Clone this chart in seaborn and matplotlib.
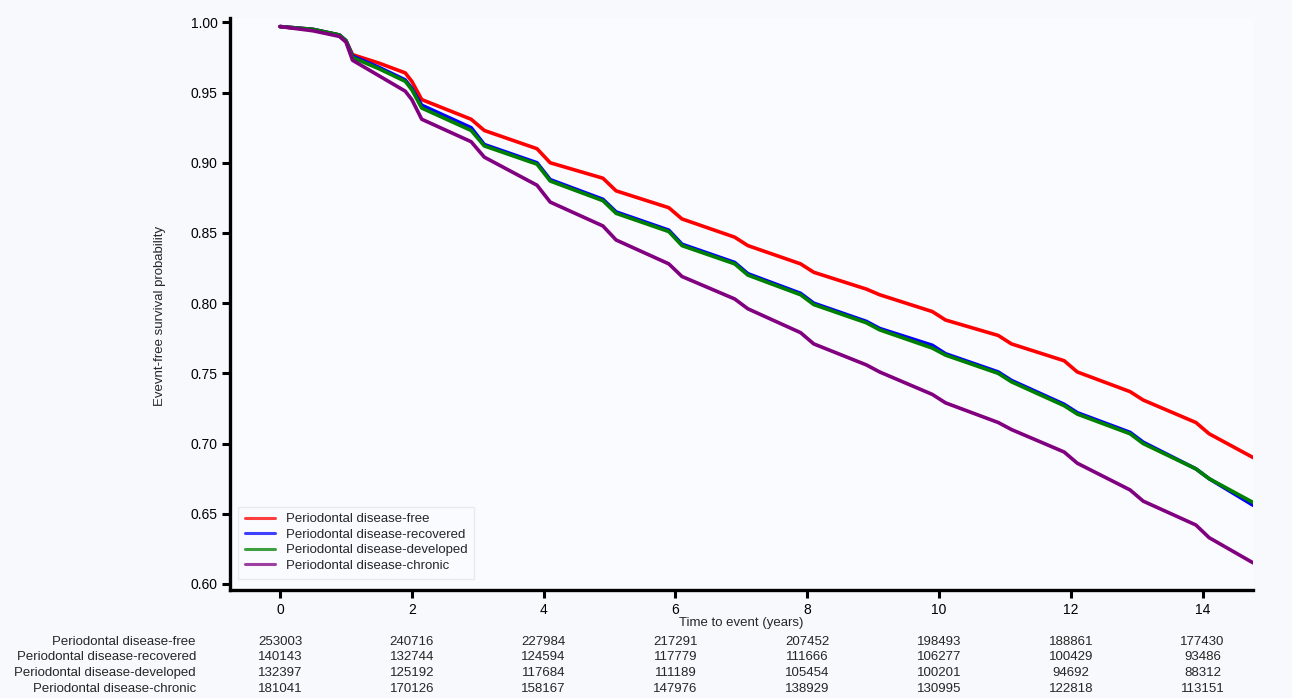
"""Event-free survival curves by periodontal disease status, with numbers at risk."""

import matplotlib

matplotlib.use("Agg")
import matplotlib.pyplot as plt
import matplotlib.transforms as mtransforms
import numpy as np
import pandas as pd
import seaborn as sns

# Curve knots (years)
time_years = [0, 0.5, 0.9, 1.0, 1.1, 1.5, 1.9, 2.0, 2.15, 2.9, 3.1, 3.9, 4.1, 4.9, 5.1,
              5.9, 6.1, 6.9, 7.1, 7.9, 8.1, 8.9, 9.1, 9.9, 10.1, 10.9, 11.1, 11.9,
              12.1, 12.9, 13.1, 13.9, 14.1, 14.77]

surv_free = [0.997, 0.995, 0.991, 0.987, 0.977, 0.971, 0.964, 0.958, 0.945, 0.931,
             0.923, 0.910, 0.900, 0.889, 0.880, 0.868, 0.860, 0.847, 0.841, 0.828,
             0.822, 0.810, 0.806, 0.794, 0.788, 0.777, 0.771, 0.759, 0.751, 0.737,
             0.731, 0.715, 0.707, 0.690]
surv_recovered = [0.997, 0.995, 0.991, 0.987, 0.976, 0.968, 0.959, 0.953, 0.941, 0.925,
                  0.913, 0.900, 0.888, 0.874, 0.865, 0.852, 0.842, 0.829, 0.821, 0.807,
                  0.800, 0.787, 0.782, 0.770, 0.764, 0.751, 0.745, 0.728, 0.722, 0.708,
                  0.701, 0.682, 0.675, 0.656]
surv_developed = [0.997, 0.995, 0.991, 0.987, 0.975, 0.967, 0.958, 0.952, 0.939, 0.923,
                  0.912, 0.899, 0.887, 0.873, 0.864, 0.851, 0.841, 0.828, 0.820, 0.806,
                  0.799, 0.786, 0.781, 0.768, 0.763, 0.750, 0.744, 0.727, 0.721, 0.707,
                  0.700, 0.682, 0.675, 0.658]
surv_chronic = [0.997, 0.994, 0.990, 0.986, 0.973, 0.962, 0.951, 0.945, 0.931, 0.915,
                0.904, 0.884, 0.872, 0.855, 0.845, 0.828, 0.819, 0.803, 0.796, 0.779,
                0.771, 0.756, 0.751, 0.735, 0.729, 0.715, 0.710, 0.694, 0.686, 0.667,
                0.659, 0.642, 0.633, 0.615]

groups = ["Periodontal disease-free", "Periodontal disease-recovered",
          "Periodontal disease-developed", "Periodontal disease-chronic"]
colors = ["#ff0000", "#0000ff", "#008000", "#800080"]

# Numbers at risk
risk_times = [0, 2, 4, 6, 8, 10, 12, 14]
risk_free = [253003, 240716, 227984, 217291, 207452, 198493, 188861, 177430]
risk_recovered = [140143, 132744, 124594, 117779, 111666, 106277, 100429, 93486]
risk_developed = [132397, 125192, 117684, 111189, 105454, 100201, 94692, 88312]
risk_chronic = [181041, 170126, 158167, 147976, 138929, 130995, 122818, 113151]

sns.set_style("ticks")
plt.rcParams["font.family"] = ["Liberation Sans", "DejaVu Sans"]

curves = [surv_free, surv_recovered, surv_developed, surv_chronic]
df = pd.concat(
    [pd.DataFrame({"time": time_years, "surv": vals, "group": name})
     for name, vals in zip(groups, curves)],
    ignore_index=True,
)

fig = plt.figure(figsize=(12.92, 6.98), dpi=100, facecolor="#f8f9fd")
ax = fig.add_axes([0.178, 0.1547, 0.792, 0.8193])
ax.set_facecolor("#fafbff")

sns.lineplot(data=df, x="time", y="surv", hue="group", hue_order=groups,
             palette=colors, estimator=None, sort=False, linewidth=2.6, ax=ax)

ax.set_xlim(-0.76, 14.77)
ax.set_ylim(0.5957, 1.003)
ax.set_xticks(risk_times)
ax.set_yticks(np.arange(0.60, 1.001, 0.05))
ax.set_yticklabels([f"{v:.2f}" for v in np.arange(0.60, 1.001, 0.05)])
ax.tick_params(axis="both", direction="out", length=6, width=2.2, labelsize=10,
               color="black", labelcolor="black", pad=3)

for side in ["top", "right"]:
    ax.spines[side].set_visible(False)
for side in ["left", "bottom"]:
    ax.spines[side].set_linewidth(2.4)
    ax.spines[side].set_color("black")

ax.set_xlabel("Time to event (years)", fontsize=9.5, labelpad=0)
ax.set_ylabel("Evevnt-free survival probability", fontsize=9.5)
ax.yaxis.set_label_coords(-0.063, 0.48)

leg = ax.legend(loc="lower left", bbox_to_anchor=(0.008, 0.02), borderaxespad=0,
                fontsize=9.5, frameon=True, fancybox=False, handlelength=2.3,
                labelspacing=0.25, borderpad=0.5)
leg.get_frame().set_edgecolor("#e6e6e6")
leg.get_frame().set_facecolor("#fafbff")
leg.get_frame().set_linewidth(1.0)
for line in leg.get_lines():
    line.set_linewidth(2.2)
    line.set_alpha(0.75)

# Numbers at risk table beneath the axis
trans = mtransforms.blended_transform_factory(ax.transData, fig.transFigure)
row_y = [0.0802, 0.0587, 0.0358, 0.0129]
risk_rows = [risk_free, risk_recovered, risk_developed, risk_chronic]
for name, counts, yy in zip(groups, risk_rows, row_y):
    fig.text(196 / 1292, yy, name, ha="right", va="center", fontsize=9.5)
    for t, n in zip(risk_times, counts):
        ax.text(t, yy, str(n), transform=trans, ha="center", va="center",
                fontsize=9.5, clip_on=False)

fig.savefig("out.png", dpi=100, facecolor=fig.get_facecolor())
plt.close(fig)
